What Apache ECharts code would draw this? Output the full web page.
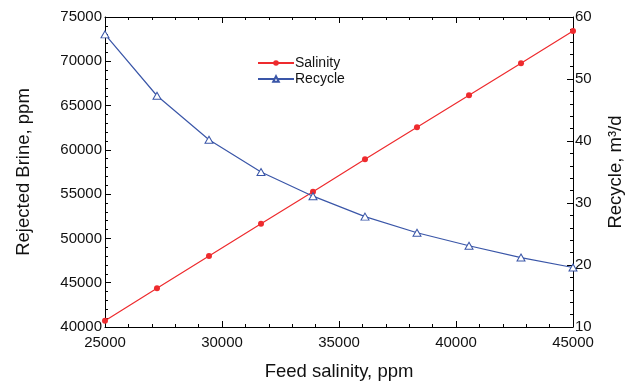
<!DOCTYPE html>
<html>
<head>
<meta charset="utf-8">
<script src="https://cdn.jsdelivr.net/npm/echarts@6/dist/echarts.min.js"></script>
<style>
  html, body { margin: 0; padding: 0; background: #fff; }
  #main { width: 633px; height: 388px; }
</style>
</head>
<body>
<div id="main"></div>
<script>
const feed = [25000, 27222, 29444, 31667, 33889, 36111, 38333, 40556, 42778, 45000];
const salinity = [40700, 44370, 48020, 51660, 55280, 58930, 62550, 66160, 69770, 73420];
const recycle = [57.2, 47.3, 40.2, 35.0, 31.1, 27.8, 25.2, 23.1, 21.2, 19.6];

const font = 'Liberation Sans, Arial, sans-serif';
const black = '#000';
const blue = '#3a56a8';
const red = '#ee2b2e';

const chart = echarts.init(document.getElementById('main'));

const tickStyle = {
  axisLine: { show: true, lineStyle: { color: black, width: 1 } },
  axisTick: { show: true, inside: true, length: 6, lineStyle: { color: black, width: 1 } },
  minorTick: { show: true, splitNumber: 5, length: 3, lineStyle: { color: black, width: 1 } },
  splitLine: { show: false }
};
const plain = v => String(v);

const option = {
  animation: false,
  grid: { left: 105, right: 55, top: 17, bottom: 61 },
  legend: {
    orient: 'vertical',
    left: 252,
    top: 51,
    itemWidth: 36,
    itemHeight: 7,
    itemGap: 2,
    textStyle: { fontFamily: font, fontSize: 14, color: '#111', padding: [0, 0, 0, -4] },
    data: ['Salinity', 'Recycle']
  },
  xAxis: [
    {
      type: 'value', min: 25000, max: 45000, interval: 5000,
      name: 'Feed salinity, ppm', nameLocation: 'middle', nameGap: 35,
      nameTextStyle: { fontFamily: font, fontSize: 18.5, color: '#111' },
      axisLabel: { fontFamily: font, fontSize: 15, color: '#111', margin: 8, formatter: plain },
      ...tickStyle
    },
    {
      type: 'value', position: 'top', min: 25000, max: 45000, interval: 5000,
      axisLabel: { show: false },
      ...tickStyle
    }
  ],
  yAxis: [
    {
      type: 'value', min: 40000, max: 75000, interval: 5000,
      name: 'Rejected Brine, ppm', nameLocation: 'middle', nameGap: 72,
      nameTextStyle: { fontFamily: font, fontSize: 18.5, color: '#111' },
      axisLabel: { fontFamily: font, fontSize: 15, color: '#111', margin: 3, formatter: plain },
      ...tickStyle
    },
    {
      type: 'value', position: 'right', min: 10, max: 60, interval: 10,
      name: 'Recycle, m³/d', nameLocation: 'middle', nameGap: 33,
      nameTextStyle: { fontFamily: font, fontSize: 18.5, color: '#111' },
      axisLabel: { fontFamily: font, fontSize: 15, color: '#111', margin: 2, formatter: plain },
      ...tickStyle
    }
  ],
  series: [
    {
      name: 'Salinity', type: 'line', xAxisIndex: 0, yAxisIndex: 0,
      data: feed.map((x, i) => [x, salinity[i]]),
      symbol: 'circle', symbolSize: 6,
      lineStyle: { color: red, width: 1.2 },
      itemStyle: { color: red }
    },
    {
      name: 'Recycle', type: 'line', xAxisIndex: 0, yAxisIndex: 1,
      data: feed.map((x, i) => [x, recycle[i]]),
      symbol: 'path://M0,-10 L10,8 L-10,8 Z', symbolSize: [8, 7],
      lineStyle: { color: blue, width: 1.2 },
      itemStyle: { color: '#fff', borderColor: blue, borderWidth: 1 }
    }
  ]
};

chart.setOption(option);
</script>
</body>
</html>
